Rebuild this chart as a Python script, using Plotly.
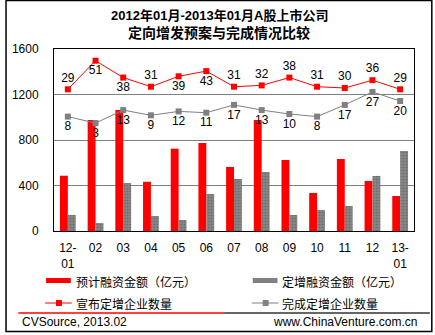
import plotly.graph_objects as go

months = ["12-<br>01", "02", "03", "04", "05", "06", "07", "08", "09", "10", "11", "12", "13-<br>01"]
planned_amount = [486, 976, 1064, 433, 724, 774, 563, 976, 624, 334, 633, 440, 308]
completed_amount = [141, 70, 422, 132, 97, 325, 457, 519, 141, 185, 220, 484, 703]
announced_count = [29, 51, 38, 31, 39, 43, 31, 32, 38, 31, 30, 36, 29]
completed_count = [8, 3, 13, 9, 12, 11, 17, 13, 10, 8, 17, 27, 20]
announced_label_pos = ["top center", "bottom center", "bottom center", "top center", "bottom center",
                       "bottom center", "top center", "top center", "top center", "top center",
                       "top center", "top center", "top center"]

legend_names = ["预计融资金额（亿元）", "定增融资金额（亿元）", "宣布定增企业数量", "完成定增企业数量"]

RED = "#FF0000"
GRAY = "#808080"
FONT = "Liberation Sans, Arial, Noto Sans CJK SC, sans-serif"

W, H = 435, 335
L, R, T, B = 50, 414, 49, 231


def px(x):
    return (x - L) / (R - L)


def py(y):
    return (B - y) / (B - T)


x = list(range(len(months)))

fig = go.Figure()
fig.add_trace(go.Bar(x=x, y=planned_amount, marker=dict(color=RED, line_width=0), name=legend_names[0]))
fig.add_trace(go.Bar(x=x, y=completed_amount,
                     marker=dict(color=GRAY, line_width=0,
                                 pattern=dict(shape=".", size=3, solidity=0.25, fgcolor="#6a6a6a",
                                              bgcolor="#858585", fillmode="replace")),
                     name=legend_names[1]))
fig.add_trace(go.Scatter(x=x, y=announced_count, yaxis="y2", mode="lines+markers+text", cliponaxis=False,
                         line=dict(color=RED, width=1), marker=dict(symbol="square", size=6, color=RED),
                         text=[str(v) for v in announced_count], textposition=announced_label_pos,
                         textfont=dict(size=12, color="black", family=FONT), name=legend_names[2]))
fig.add_trace(go.Scatter(x=x, y=completed_count, yaxis="y2", mode="lines+markers+text", cliponaxis=False,
                         line=dict(color=GRAY, width=1), marker=dict(symbol="square", size=6, color=GRAY),
                         text=[str(v) for v in completed_count], textposition="bottom center",
                         textfont=dict(size=12, color="black", family=FONT), name=legend_names[3]))

shapes = []
annotations = []

# title
annotations.append(dict(xref="paper", yref="paper", x=px(217), y=py(15), text="<b>2012年01月-2013年01月A股上市公司</b>",
                        showarrow=False, font=dict(size=13, color="black", family=FONT), xanchor="center", yanchor="middle"))
annotations.append(dict(xref="paper", yref="paper", x=px(217), y=py(33), text="<b>定向增发预案与完成情况比较</b>",
                        showarrow=False, font=dict(size=14, color="black", family=FONT), xanchor="center", yanchor="middle"))

# legend (manual)
shapes.append(dict(type="rect", xref="paper", yref="paper", x0=px(42), x1=px(67), y0=py(278), y1=py(283),
                   fillcolor=RED, line_width=0))
shapes.append(dict(type="rect", xref="paper", yref="paper", x0=px(251), x1=px(276), y0=py(278), y1=py(283),
                   fillcolor=GRAY, line_width=0))
shapes.append(dict(type="line", xref="paper", yref="paper", x0=px(41), x1=px(68), y0=py(303), y1=py(303),
                   line=dict(color=RED, width=1)))
shapes.append(dict(type="rect", xref="paper", yref="paper", x0=px(52), x1=px(58), y0=py(300), y1=py(306),
                   fillcolor=RED, line_width=0))
shapes.append(dict(type="line", xref="paper", yref="paper", x0=px(250), x1=px(277), y0=py(303), y1=py(303),
                   line=dict(color=GRAY, width=1)))
shapes.append(dict(type="rect", xref="paper", yref="paper", x0=px(261), x1=px(267), y0=py(300), y1=py(306),
                   fillcolor=GRAY, line_width=0))
for name, lx, ly in [(legend_names[0], 70, 281), (legend_names[1], 279, 281),
                     (legend_names[2], 70, 303), (legend_names[3], 279, 303)]:
    annotations.append(dict(xref="paper", yref="paper", x=px(lx), y=py(ly), text=name, showarrow=False,
                            font=dict(size=12, color="black", family="Noto Sans CJK SC"),
                            xanchor="left", yanchor="middle"))

# footer lines and text
shapes.append(dict(type="line", xref="paper", yref="paper", x0=px(14), x1=px(222), y0=py(313), y1=py(313),
                   line=dict(color=RED, width=1.5)))
shapes.append(dict(type="line", xref="paper", yref="paper", x0=px(222), x1=px(430), y0=py(313), y1=py(313),
                   line=dict(color="#333333", width=1.5)))
annotations.append(dict(xref="paper", yref="paper", x=px(16), y=py(322), text="CVSource, 2013.02", showarrow=False,
                        font=dict(size=12, color="black", family=FONT), xanchor="left", yanchor="middle"))
annotations.append(dict(xref="paper", yref="paper", x=px(419), y=py(322), text="www.ChinaVenture.com.cn",
                        showarrow=False, font=dict(size=12, color="black", family=FONT),
                        xanchor="right", yanchor="middle"))

# outer border
shapes.append(dict(type="rect", xref="paper", yref="paper", x0=px(1.5), x1=px(432), y0=py(0.5), y1=py(331.5),
                   line=dict(color="black", width=1.5), fillcolor="rgba(0,0,0,0)"))

fig.update_layout(
    width=W, height=H,
    margin=dict(l=L, r=W - R, t=T, b=H - B, pad=0),
    paper_bgcolor="white", plot_bgcolor="white",
    showlegend=False,
    barmode="group", bargap=0.43, bargroupgap=0,
    font=dict(family=FONT, size=12, color="black"),
    xaxis=dict(tickmode="array", tickvals=x, ticktext=months, range=[-0.5, len(months) - 0.5],
               showgrid=False, showline=True, linecolor="black", linewidth=1, mirror=True,
               ticks="", tickfont=dict(size=12, family=FONT), ticklabelstandoff=6, zeroline=False),
    yaxis=dict(range=[0, 1600], tickvals=[0, 400, 800, 1200, 1600], showgrid=True, gridcolor=GRAY,
               gridwidth=1, showline=True, linecolor="black", linewidth=1, mirror=True, ticks="",
               tickfont=dict(size=12, family=FONT), ticklabelstandoff=12, zeroline=False),
    yaxis2=dict(range=[-80, 60], overlaying="y", visible=False),
    shapes=shapes, annotations=annotations,
)

fig.write_html("out.html")
